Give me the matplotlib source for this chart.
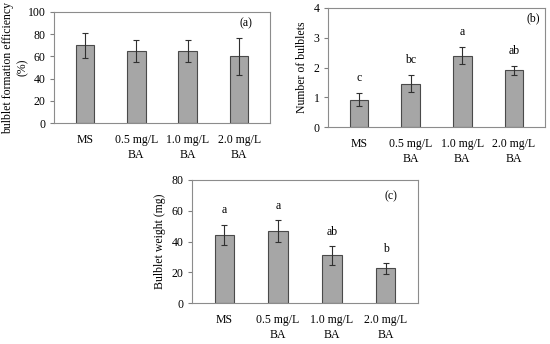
import matplotlib.pyplot as plt
import numpy as np

categories = ["MS", "0.5 mg/L\nBA", "1.0 mg/L\nBA", "2.0 mg/L\nBA"]

eff_vals = [70, 65, 65, 60]
eff_err = [11.5, 10, 10, 16.5]

num_vals = [0.92, 1.46, 2.4, 1.9]
num_err = [0.23, 0.3, 0.28, 0.14]
num_letters = ["c", "bc", "a", "ab"]

wt_vals = [44.5, 47, 31, 22.5]
wt_err = [6.5, 7, 6, 3.5]
wt_letters = ["a", "a", "ab", "b"]

plt.rcParams['font.family'] = ['Liberation Serif', 'DejaVu Serif']
plt.rcParams['font.size'] = 8.5

fig = plt.figure(figsize=(5.5, 3.44), dpi=100)
W, H = 550, 344

def mk(l, t, r, b):
    return fig.add_axes([l / W, 1 - b / H, (r - l) / W, (b - t) / H])

axa = mk(54, 12, 270, 123)
axb = mk(328, 8, 545, 127)
axc = mk(192, 180, 418, 303)

def draw(ax, vals, errs, ylim, yticks, ylabel, tag, tagpos, letters=None, loff=0, lx=-0.12):
    x = np.arange(len(categories))
    ax.bar(x, vals, width=0.36, color="#a6a6a6", edgecolor="#4a4a4a", linewidth=0.8)
    ax.errorbar(x, vals, yerr=errs, fmt="none", ecolor="#303030", elinewidth=0.8, capsize=2.3, capthick=0.8)
    ax.set_xlim(-0.6, 3.6)
    ax.set_ylim(*ylim)
    ax.set_yticks(yticks)
    ax.set_xticks(x)
    ax.set_xticklabels(categories, linespacing=1.3)
    ax.tick_params(axis="x", length=0, pad=8)
    ax.tick_params(axis="y", length=3, direction="out", color="#808080", pad=3)
    for s in ax.spines.values():
        s.set_color("#8c8c8c")
        s.set_linewidth(0.8)
    ax.set_ylabel(ylabel, linespacing=1.3)
    ax.yaxis.set_label_coords(lx, 0.5)
    ax.text(tagpos[0], tagpos[1], tag, transform=ax.transAxes, ha="right", va="top")
    if letters:
        for xi, v, e, L in zip(x, vals, errs, letters):
            ax.text(xi, v + e + loff, L, ha="center", va="bottom")

draw(axa, eff_vals, eff_err, (0, 100), [0, 20, 40, 60, 80, 100],
     "bulblet formation efficiency\n(%)", "(a)", (0.92, 0.95), lx=-0.115)
draw(axb, num_vals, num_err, (0, 4), [0, 1, 2, 3, 4],
     "Number of bulblets", "(b)", (0.975, 0.96), num_letters, 0.3, lx=-0.09)
draw(axc, wt_vals, wt_err, (0, 80), [0, 20, 40, 60, 80],
     "Bulblet weight (mg)", "(c)", (0.91, 0.92), wt_letters, 5.5, lx=-0.115)

fig.savefig("out.png", dpi=100)
